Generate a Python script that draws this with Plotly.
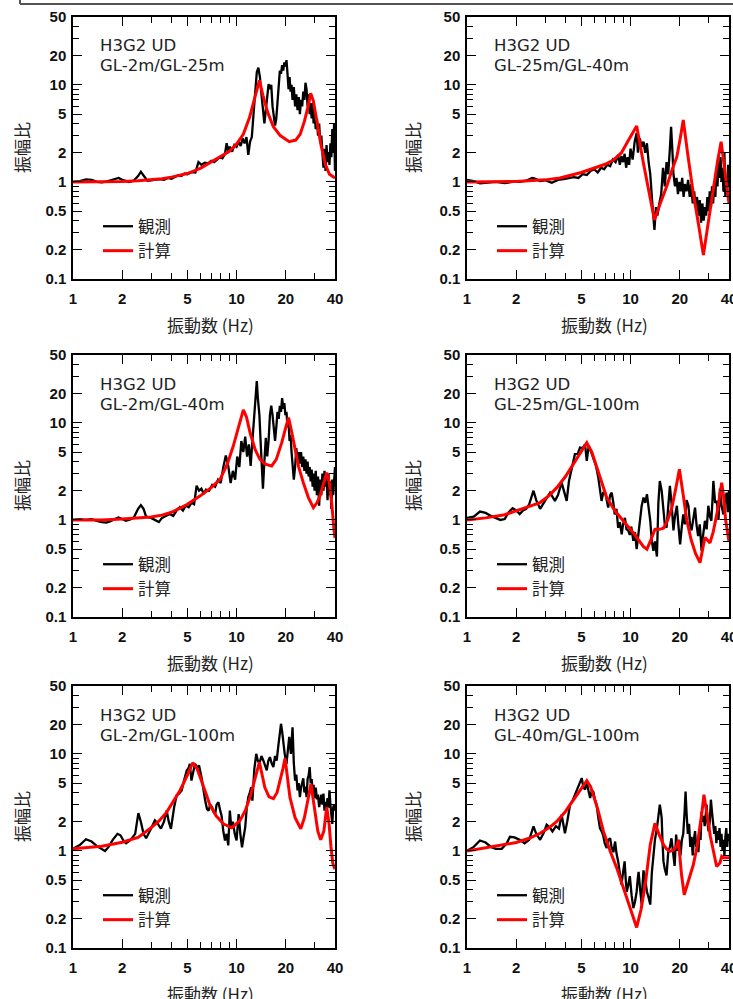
import math
import plotly.graph_objects as go

# ---------------- data ----------------
# Panel 1: H3G2 UD  GL-2m/GL-25m
f_obs_1 = [1.0, 1.1, 1.2, 1.3, 1.4, 1.5, 1.6, 1.7, 1.8, 1.9,
           2.0, 2.1, 2.2, 2.35, 2.5, 2.6, 2.7, 2.85, 3.0, 3.2,
           3.4, 3.6, 3.8, 4.0, 4.2, 4.4, 4.6, 4.8, 5.0, 5.3,
           5.6, 5.85, 6.1, 6.4, 6.7, 7.0, 7.3, 7.6, 7.9, 8.2,
           8.5, 8.7, 8.9, 9.1, 9.4, 9.7, 10.0, 10.3, 10.6, 10.9,
           11.2, 11.5, 11.8, 12.1, 12.4, 12.7, 13.0, 13.3, 13.6, 13.9,
           14.2, 14.5, 14.8, 15.1, 15.4, 15.7, 16.0, 16.3, 16.6, 16.9,
           17.2, 17.5, 17.8, 18.1, 18.4, 18.7, 19.0, 19.3, 19.6, 19.9,
           20.2, 20.5, 20.8, 21.1, 21.4, 21.7, 22.0, 22.4, 22.8, 23.2,
           23.6, 24.0, 24.4, 24.8, 25.2, 25.6, 26.0, 26.4, 26.8, 27.2,
           27.6, 28.0, 28.4, 28.8, 29.2, 29.6, 30.0, 30.5, 31.0, 31.5,
           32.0, 32.5, 33.0, 33.5, 34.0, 34.5, 35.0, 35.5, 36.0, 36.5,
           37.0, 37.5, 38.0, 38.5, 39.0, 39.5, 40.0]
a_obs_1 = [1.0, 1.02, 1.06, 1.05, 1.0, 0.99, 1.01, 1.04, 1.06, 1.1,
           1.05, 1.02, 1.0, 1.03, 1.15, 1.27, 1.15, 1.03, 1.04, 1.06,
           1.07, 1.05, 1.1, 1.08, 1.12, 1.17, 1.15, 1.22, 1.2, 1.26,
           1.25, 1.6, 1.5, 1.58, 1.55, 1.65, 1.6, 1.7, 1.8, 1.75,
           1.95, 2.5, 2.1, 2.3, 2.05, 2.4, 2.3, 2.6, 2.35, 2.8,
           2.5, 2.9, 1.9, 2.6, 2.9, 5.0, 9.5, 13.5, 15.0, 12.0,
           8.0, 5.2, 4.0, 5.5, 8.0, 10.2, 9.0, 10.0, 6.0, 4.5,
           3.8, 4.5, 7.0, 11.0, 14.0, 13.0, 16.0, 14.0, 17.0, 15.5,
           18.0, 13.0, 9.0, 12.0, 8.5, 10.0, 7.0, 9.5, 6.0, 8.0,
           5.5, 7.5, 5.0, 7.0, 6.0, 8.5, 7.0, 10.5, 9.0, 6.0,
           8.0, 5.0, 6.5, 4.5, 6.5, 4.0, 5.0, 3.5, 4.5, 3.0,
           4.0, 2.5, 3.0, 2.0, 1.4, 2.2, 1.3, 2.4, 1.6, 2.0,
           1.5, 2.5, 1.8, 3.5, 2.0, 4.0, 1.3]
f_cal_1 = [1, 1.5, 2, 2.5, 3, 3.5, 4, 4.5, 5, 6,
           7, 8, 9, 10, 11, 12, 13, 13.8, 14.5, 15.5,
           16.8, 18.5, 21, 23, 24.5, 26, 27.5, 28.4, 29.5, 31,
           33, 35, 37, 40]
a_cal_1 = [1.0, 1.0, 1.01, 1.03, 1.05, 1.08, 1.12, 1.17, 1.22, 1.38,
           1.6, 1.85, 2.05, 2.45, 3.1, 4.6, 7.5, 11.1, 7.8, 5.2,
           3.7, 3.0, 2.6, 2.7, 3.1, 4.2, 6.2, 8.2, 6.8, 4.2,
           2.3, 1.5, 1.2, 1.1]

# Panel 2: H3G2 UD  GL-25m/GL-40m
f_obs_2 = [1.0, 1.1, 1.2, 1.35, 1.5, 1.7, 1.9, 2.1, 2.3, 2.5,
           2.6, 2.8, 3.0, 3.3, 3.6, 3.9, 4.2, 4.5, 4.8, 5.1,
           5.4, 5.7, 6.0, 6.3, 6.6, 6.9, 7.2, 7.5, 7.8, 8.1,
           8.4, 8.6, 8.8, 9.0, 9.2, 9.4, 9.6, 9.8, 10.0, 10.3,
           10.6, 10.9, 11.1, 11.4, 11.7, 12.0, 12.3, 12.6, 12.9, 13.2,
           13.5, 13.8, 14.0, 14.3, 14.6, 15.0, 15.4, 15.8, 16.2, 16.6,
           17.0, 17.4, 17.7, 18.0, 18.3, 18.7, 19.1, 19.5, 19.9, 20.3,
           20.7, 21.1, 21.5, 22.0, 22.5, 23.0, 23.5, 24.0, 24.5, 25.0,
           25.5, 26.0, 26.5, 27.0, 27.5, 28.0, 28.5, 29.0, 29.5, 30.0,
           30.5, 31.0, 31.5, 32.0, 32.5, 33.0, 33.5, 34.0, 34.5, 35.0,
           35.5, 36.0, 36.5, 37.0, 37.5, 38.0, 38.5, 39.0, 39.5, 40.0]
a_obs_2 = [1.05, 1.02, 0.97, 0.98, 1.0, 0.97, 1.0, 1.0, 1.03, 1.1,
           1.08, 1.02, 1.04, 0.98, 1.05, 1.07, 1.1, 1.12, 1.1, 1.2,
           1.18, 1.3, 1.35, 1.25, 1.4, 1.35, 1.5, 1.45, 1.7, 1.6,
           1.9, 1.5, 1.85, 1.6, 1.95, 1.4, 1.8, 1.5, 2.2, 1.7,
           2.6, 3.2, 2.0, 2.8, 2.3, 2.6, 2.0, 2.5, 1.6, 1.2,
           0.7, 0.45, 0.32, 0.55, 0.45, 0.6, 0.75, 1.4, 0.9, 1.6,
           1.2, 2.2, 3.7, 2.2, 1.2, 0.9, 1.1, 0.75, 1.0, 0.8,
           1.1, 0.7, 0.95, 0.8, 1.05, 0.7, 0.95, 0.6, 0.8, 0.55,
           0.7, 0.45, 0.65, 0.38, 0.6, 0.4, 0.55, 0.45, 0.7, 0.5,
           0.8, 0.55, 0.9, 0.6, 1.0, 0.7, 1.3, 0.9, 1.6, 1.1,
           1.8, 1.0, 1.4, 0.8, 2.0, 0.7, 1.1, 0.8, 1.5, 0.9]
f_cal_2 = [1, 1.5, 2, 3, 3.7, 5, 5.93, 7, 7.85, 8.8,
           9.48, 10.2, 10.9, 12.0, 13.0, 14.0, 15.2, 16.6, 18.0, 19.2,
           20.2, 21.0, 22.5, 24.2, 26.0, 27.9, 30.0, 32.1, 34.0, 35.8,
           37.2, 38.7, 40]
a_cal_2 = [1.0, 1.0, 1.01, 1.05, 1.1, 1.25, 1.38, 1.52, 1.68, 2.0,
           2.5, 3.1, 3.77, 1.55, 0.78, 0.405, 0.6, 0.89, 1.35, 1.82,
           2.9, 4.34, 1.8, 0.76, 0.37, 0.177, 0.4, 0.89, 1.6, 2.6,
           1.6, 0.97, 0.6]

# Panel 3: H3G2 UD  GL-2m/GL-40m
f_obs_3 = [1.0, 1.1, 1.2, 1.3, 1.4, 1.5, 1.6, 1.7, 1.8, 1.9,
           2.0, 2.1, 2.2, 2.35, 2.5, 2.6, 2.7, 2.8, 3.0, 3.2,
           3.35, 3.5, 3.7, 3.9, 4.1, 4.3, 4.5, 4.7, 4.9, 5.1,
           5.3, 5.5, 5.7, 5.9, 6.1, 6.3, 6.5, 6.8, 7.1, 7.4,
           7.7, 8.0, 8.3, 8.6, 8.9, 9.2, 9.5, 9.8, 10.1, 10.4,
           10.7, 11.0, 11.3, 11.6, 11.9, 12.2, 12.5, 12.8, 13.1, 13.3,
           13.5, 13.8, 14.0, 14.3, 14.5, 14.8, 15.1, 15.4, 15.7, 16.0,
           16.3, 16.6, 16.9, 17.2, 17.5, 17.8, 18.1, 18.4, 18.7, 19.0,
           19.3, 19.6, 19.9, 20.2, 20.5, 20.8, 21.1, 21.4, 21.7, 22.0,
           22.4, 22.8, 23.2, 23.6, 24.0, 24.4, 24.8, 25.2, 25.6, 26.0,
           26.4, 26.8, 27.2, 27.6, 28.0, 28.4, 28.8, 29.2, 29.6, 30.0,
           30.5, 31.0, 31.5, 32.0, 32.5, 33.0, 33.5, 34.0, 34.5, 35.0,
           35.5, 36.0, 36.5, 37.0, 37.5, 38.0, 38.5, 39.0, 39.5, 40.0]
a_obs_3 = [1.0, 1.02, 1.0, 1.02, 0.98, 0.95, 0.94, 0.97, 1.02, 1.06,
           1.02, 0.98, 1.0, 1.05, 1.3, 1.42, 1.3, 1.08, 1.05, 1.0,
           0.95, 1.05, 1.1, 1.15, 1.1, 1.25, 1.35, 1.25, 1.4, 1.35,
           1.5, 1.45, 2.25, 2.0, 2.1, 1.85, 2.05, 2.0, 2.3, 2.2,
           2.6, 2.4, 3.5, 4.6, 3.6, 2.4, 3.2, 2.6, 4.5, 3.5,
           6.5, 5.0, 7.2, 4.5, 6.0, 3.6, 6.5, 12.0, 20.0, 27.0,
           18.0, 12.0, 7.0, 3.5, 2.1, 4.0, 7.0, 4.5, 6.5, 12.0,
           15.0, 12.0, 9.0, 6.5, 9.0, 13.0, 11.0, 15.0, 13.0, 18.0,
           14.0, 16.0, 12.0, 13.0, 9.0, 10.0, 6.5, 7.5, 5.0, 4.0,
           2.6, 3.5, 5.5, 4.0, 5.0, 3.8, 5.0, 3.5, 4.5, 3.2,
           4.2, 3.0, 4.0, 2.8, 3.5, 2.5, 3.3, 2.2, 3.0, 2.0,
           3.2, 1.8, 2.8, 1.4, 2.6, 1.8, 3.0, 2.0, 3.2, 2.2,
           2.8, 1.6, 3.0, 1.8, 2.5, 1.3, 2.6, 1.8, 3.2, 3.5]
f_cal_3 = [1, 1.5, 2, 2.5, 3, 3.5, 4, 4.5, 5, 6,
           7, 7.93, 8.8, 9.56, 10.3, 11.0, 11.5, 12.1, 13.0, 13.9,
           15, 16.4, 17.5, 18.9, 20.0, 20.8, 21.6, 22.7, 24, 25.6,
           27.5, 29.5, 31, 32.4, 34, 35.6, 36.8, 38.2, 39.4, 40]
a_cal_3 = [1.0, 1.0, 1.02, 1.04, 1.07, 1.12, 1.2, 1.32, 1.45, 1.77,
           2.15, 2.62, 3.8, 5.8, 9.0, 13.6, 11.5, 7.9, 5.3, 4.2,
           3.75, 3.6, 4.2, 6.25, 9.0, 11.3, 8.5, 5.35, 3.5, 2.42,
           1.7, 1.34, 1.5, 1.77, 2.4, 3.07, 2.5, 1.5, 0.8, 0.65]

# Panel 4: H3G2 UD  GL-25m/GL-100m
f_obs_4 = [1.0, 1.1, 1.2, 1.3, 1.4, 1.5, 1.6, 1.7, 1.8, 1.9,
           2.0, 2.1, 2.2, 2.3, 2.4, 2.55, 2.65, 2.8, 3.0, 3.22,
           3.45, 3.6, 3.79, 3.95, 4.07, 4.2, 4.36, 4.57, 4.75, 4.91,
           5.1, 5.27, 5.4, 5.55, 5.66, 5.92, 6.15, 6.35, 6.5, 6.65,
           6.8, 7.0, 7.15, 7.3, 7.5, 7.67, 7.85, 8.0, 8.2, 8.4,
           8.6, 8.83, 9.0, 9.24, 9.45, 9.67, 9.9, 10.1, 10.4, 10.65,
           10.9, 11.15, 11.4, 11.7, 12.0, 12.3, 12.6, 12.9, 13.2, 13.5,
           13.8, 14.1, 14.5, 14.8, 15.1, 15.5, 15.9, 16.2, 16.6, 17.0,
           17.4, 17.8, 18.3, 18.7, 19.2, 19.6, 20.1, 20.5, 21.0, 21.5,
           22.0, 22.6, 23.1, 23.6, 24.2, 24.8, 25.3, 25.9, 26.5, 27.2,
           27.8, 28.5, 29.2, 29.9, 30.5, 31.2, 31.7, 32.1, 32.9, 33.7,
           34.5, 35.2, 36.0, 37.0, 37.8, 38.7, 39.3, 40.0]
a_obs_4 = [1.05, 1.08, 1.22, 1.18, 1.1, 1.05, 1.0, 1.02, 1.2, 1.32,
           1.25, 1.15, 1.25, 1.3, 1.45, 2.0, 1.6, 1.3, 1.6, 1.91,
           1.57, 1.8, 2.42, 1.8, 1.57, 2.5, 3.46, 4.76, 4.8, 5.56,
           5.5, 6.0, 4.05, 5.8, 5.35, 4.38, 3.6, 2.73, 2.0, 1.57,
           1.9, 1.9, 1.6, 1.34, 1.8, 1.91, 1.5, 1.14, 1.3, 0.83,
           0.95, 0.71, 0.9, 1.05, 0.8, 0.78, 0.7, 0.85, 0.61, 0.75,
           0.5, 0.7, 0.98, 1.4, 1.7, 1.5, 1.84, 1.3, 0.98, 0.6,
           0.48, 0.6, 0.42, 1.5, 2.52, 2.0, 1.34, 0.9, 0.83, 1.4,
           2.24, 1.5, 0.78, 1.1, 1.4, 0.9, 0.56, 0.8, 1.14, 0.9,
           1.6, 1.4, 0.9, 0.78, 1.1, 1.34, 0.9, 0.68, 0.9, 0.48,
           0.7, 0.98, 0.8, 1.4, 1.1, 0.98, 1.6, 2.52, 1.5, 1.57,
           1.0, 2.1, 1.4, 1.14, 1.6, 1.91, 1.2, 2.0]
f_cal_4 = [1, 1.3, 1.7, 2.0, 2.4, 2.8, 3.2, 3.54, 4.0, 4.47,
           5.0, 5.4, 5.8, 6.21, 6.7, 7.15, 8.0, 9.03, 10.5, 12.0,
           12.6, 13.3, 14.1, 15.0, 15.9, 16.9, 17.9, 19.0, 19.9, 21.0,
           22.1, 23.5, 25.0, 26.6, 27.6, 28.5, 29.5, 30.6, 32.0, 33.7,
           35.0, 36.1, 37.0, 38.2, 40]
a_cal_4 = [1.0, 1.05, 1.13, 1.24, 1.37, 1.51, 1.8, 2.15, 2.8, 3.75,
           5.0, 6.25, 5.0, 3.46, 2.4, 1.70, 1.25, 0.98, 0.72, 0.53,
           0.50, 0.62, 0.80, 0.8, 0.82, 1.0, 1.34, 2.2, 3.33, 1.8,
           0.98, 0.62, 0.45, 0.363, 0.5, 0.66, 0.62, 0.58, 0.75, 1.14,
           1.7, 2.42, 1.8, 0.98, 0.6]

# Panel 5: H3G2 UD  GL-2m/GL-100m
f_obs_5 = [1.0, 1.1, 1.2, 1.3, 1.4, 1.5, 1.57, 1.65, 1.75, 1.87,
           1.95, 2.05, 2.11, 2.25, 2.4, 2.51, 2.6, 2.7, 2.8, 2.95,
           3.05, 3.17, 3.3, 3.45, 3.6, 3.74, 3.85, 3.97, 4.15, 4.3,
           4.45, 4.62, 4.8, 4.96, 5.1, 5.18, 5.3, 5.45, 5.57, 5.75,
           5.9, 6.12, 6.3, 6.43, 6.6, 6.75, 6.9, 7.1, 7.25, 7.4,
           7.55, 7.75, 7.95, 8.1, 8.3, 8.5, 8.7, 8.9, 9.1, 9.3,
           9.5, 9.75, 10.0, 10.15, 10.3, 10.55, 10.8, 11.05, 11.3, 11.55,
           11.8, 12.05, 12.3, 12.5, 12.85, 13.2, 13.5, 13.8, 14.2, 14.6,
           14.95, 15.3, 15.65, 16.0, 16.4, 16.8, 17.2, 17.6, 18.0, 18.3,
           18.7, 19.0, 19.3, 19.7, 20.2, 20.6, 21.0, 21.5, 22.0, 22.4,
           22.8, 23.2, 23.6, 24.0, 24.4, 24.8, 25.2, 25.6, 26.0, 26.4,
           26.8, 27.2, 27.6, 28.0, 28.4, 28.8, 29.2, 29.6, 30.0, 30.5,
           31.0, 31.5, 32.0, 32.5, 33.0, 33.5, 34.0, 34.5, 35.0, 35.5,
           36.0, 36.5, 37.0, 37.5, 38.0, 38.5, 39.0, 39.5, 40.0]
a_obs_5 = [1.05, 1.15, 1.32, 1.25, 1.12, 1.05, 1.0, 1.1, 1.3, 1.5,
           1.45, 1.25, 1.2, 1.3, 1.5, 2.45, 2.0, 1.5, 1.35, 1.6,
           1.8, 2.06, 1.9, 1.7, 2.0, 2.61, 2.0, 1.69, 2.8, 3.73,
           3.9, 4.2, 5.5, 6.75, 7.2, 7.9, 5.3, 7.0, 7.9, 7.2,
           7.6, 5.6, 4.0, 3.3, 2.7, 2.6, 3.0, 2.8, 2.5, 2.4,
           3.0, 3.18, 2.6, 2.3, 1.6, 1.28, 1.5, 1.14, 2.6, 1.7,
           2.0, 1.5, 1.28, 1.8, 2.4, 1.5, 1.09, 1.4, 1.75, 2.8,
           3.58, 4.0, 4.53, 3.3, 7.0, 10.0, 8.5, 7.9, 9.5, 8.5,
           7.5, 6.75, 8.5, 9.25, 8.0, 7.3, 9.5, 8.5, 12.0, 16.0,
           20.4, 17.0, 12.7, 10.0, 7.9, 12.0, 15.0, 10.0, 18.8, 8.0,
           5.3, 6.1, 4.2, 5.0, 3.58, 4.5, 5.0, 5.6, 4.0, 4.6,
           3.58, 5.5, 6.0, 7.3, 5.0, 5.5, 4.2, 4.8, 3.5, 4.5,
           3.4, 3.8, 2.83, 3.5, 3.8, 3.0, 3.9, 2.6, 3.2, 2.83,
           3.5, 2.8, 4.2, 3.0, 2.5, 1.9, 2.8, 3.0, 2.6]
f_cal_5 = [1, 1.5, 2, 2.5, 2.96, 3.37, 3.74, 4.1, 4.51, 5.0,
           5.4, 5.75, 6.12, 6.5, 6.89, 7.5, 8.3, 9.35, 10.5, 11.3,
           12.1, 12.9, 13.8, 14.3, 14.9, 15.8, 16.8, 17.7, 18.5, 19.2,
           19.8, 20.5, 21.2, 22.8, 24.7, 26.0, 26.9, 27.8, 28.5, 29.3,
           30.2, 31.4, 32.7, 34.2, 35.6, 36.8, 37.8, 38.8, 40]
a_cal_5 = [1.05, 1.12, 1.23, 1.38, 1.7, 2.05, 2.51, 3.2, 4.2, 6.0,
           8.1, 7.0, 5.3, 3.9, 2.94, 2.3, 1.9, 1.73, 2.06, 2.6,
           3.58, 5.4, 8.2, 6.2, 4.5, 3.6, 3.45, 4.0, 5.3, 7.0,
           9.0, 6.0, 3.58, 2.2, 1.69, 2.2, 2.83, 3.9, 4.93, 3.6,
           2.42, 1.6, 1.30, 1.6, 2.83, 1.9, 1.1, 0.74, 0.65]

# Panel 6: H3G2 UD  GL-40m/GL-100m
f_obs_6 = [1.0, 1.1, 1.2, 1.3, 1.4, 1.5, 1.63, 1.75, 1.83, 1.95,
           2.1, 2.25, 2.4, 2.55, 2.65, 2.8, 2.95, 3.07, 3.2, 3.33,
           3.5, 3.65, 3.79, 3.9, 3.97, 4.1, 4.27, 4.42, 4.57, 4.8,
           5.03, 5.15, 5.27, 5.4, 5.55, 5.66, 5.8, 5.93, 6.05, 6.2,
           6.35, 6.5, 6.65, 6.8, 6.95, 7.15, 7.3, 7.5, 7.65, 7.85,
           8.05, 8.2, 8.4, 8.6, 8.8, 9.0, 9.2, 9.35, 9.48, 9.7,
           9.9, 10.15, 10.4, 10.65, 10.9, 11.05, 11.2, 11.45, 11.7, 11.85,
           12.0, 12.3, 12.6, 12.9, 13.2, 13.5, 13.8, 14.1, 14.5, 14.8,
           15.1, 15.3, 15.5, 15.7, 15.9, 16.2, 16.6, 17.0, 17.4, 17.8,
           18.2, 18.6, 19.0, 19.4, 19.8, 20.2, 20.6, 21.0, 21.4, 21.7,
           22.0, 22.4, 22.8, 23.2, 23.6, 24.0, 24.4, 24.8, 25.2, 25.6,
           26.0, 26.4, 26.8, 27.2, 27.6, 28.0, 28.4, 28.8, 29.2, 29.6,
           30.0, 30.5, 31.0, 31.5, 32.0, 32.5, 33.0, 33.5, 34.0, 34.5,
           35.0, 35.5, 36.0, 36.5, 37.0, 37.5, 38.0, 38.5, 39.0, 39.5, 40.0]
a_obs_6 = [1.0, 1.1, 1.28, 1.22, 1.1, 1.05, 1.05, 1.2, 1.4, 1.38,
           1.3, 1.2, 1.3, 1.79, 1.5, 1.3, 1.55, 1.86, 1.75, 1.59,
           1.8, 1.7, 2.36, 1.8, 1.52, 2.0, 3.0, 3.3, 3.79, 4.5,
           5.63, 4.5, 4.3, 5.0, 4.0, 3.5, 4.2, 4.05, 3.4, 3.0,
           2.2, 1.72, 1.6, 1.45, 1.2, 1.07, 1.3, 1.35, 1.1, 0.97,
           1.25, 0.95, 0.78, 0.6, 0.45, 0.6, 0.78, 0.5, 0.38, 0.45,
           0.55, 0.35, 0.257, 0.3, 0.38, 0.5, 0.61, 0.4, 0.28, 0.45,
           0.63, 0.5, 0.38, 0.33, 0.28, 0.6, 0.97, 1.3, 1.72, 2.4,
           3.0, 2.6, 2.2, 1.2, 0.78, 0.65, 0.56, 0.97, 1.1, 1.35,
           1.0, 0.7, 1.47, 1.0, 1.3, 0.9, 1.3, 1.5, 2.5, 4.1,
           2.5, 1.5, 1.9, 1.1, 1.4, 0.9, 1.3, 1.6, 1.1, 1.3,
           0.97, 1.6, 1.3, 2.55, 2.0, 2.3, 1.8, 2.2, 3.0, 1.9,
           1.59, 2.0, 3.37, 2.5, 2.0, 1.5, 1.8, 1.2, 1.6, 1.3,
           1.72, 1.1, 1.5, 1.0, 1.3, 0.9, 1.4, 1.72, 1.1, 1.5, 1.25]
f_cal_6 = [1, 1.3, 1.6, 2.0, 2.4, 2.8, 3.2, 3.54, 4.0, 4.47,
           5.0, 5.4, 5.7, 5.93, 6.3, 6.83, 7.5, 8.24, 9.48, 10.2,
           10.9, 11.6, 12.3, 13.2, 14.1, 14.9, 15.9, 16.6, 17.4, 18.3,
           19.1, 19.6, 20.5, 21.3, 22.6, 24.2, 25.5, 26.6, 27.4, 28.1,
           29.0, 29.6, 30.8, 32.1, 33.6, 35.2, 36.1, 37.0, 40]
a_cal_6 = [1.0, 1.08, 1.15, 1.22, 1.35, 1.52, 1.75, 2.01, 2.55, 3.37,
           4.5, 5.3, 4.6, 3.79, 2.7, 1.59, 1.0, 0.665, 0.327, 0.23,
           0.163, 0.25, 0.45, 1.16, 1.93, 1.5, 1.16, 1.05, 0.99, 1.02,
           1.11, 1.3, 0.57, 0.354, 0.5, 0.72, 1.1, 1.72, 2.6, 3.79,
           2.8, 2.18, 1.4, 0.99, 0.69, 0.75, 0.88, 0.85, 0.85]

station = "H3G2 UD"
ratio_labels = ["GL-2m/GL-25m", "GL-25m/GL-40m", "GL-2m/GL-40m",
                "GL-25m/GL-100m", "GL-2m/GL-100m", "GL-40m/GL-100m"]
series_names = ["観測", "計算"]
x_title = "振動数 (Hz)"
y_title = "振幅比"

x_tickvals = [1, 2, 5, 10, 20, 40]
x_ticktext = ["1", "2", "5", "10", "20", "40"]
x_minorvals = [3, 4, 6, 7, 8, 9, 30]
y_tickvals = [0.1, 0.2, 0.5, 1, 2, 5, 10, 20, 50]
y_ticktext = ["0.1", "0.2", "0.5", "1", "2", "5", "10", "20", "50"]
y_minorvals = [0.3, 0.4, 0.6, 0.7, 0.8, 0.9, 3, 4, 6, 7, 8, 9, 30, 40]

obs_f = [f_obs_1, f_obs_2, f_obs_3, f_obs_4, f_obs_5, f_obs_6]
obs_a = [a_obs_1, a_obs_2, a_obs_3, a_obs_4, a_obs_5, a_obs_6]
cal_f = [f_cal_1, f_cal_2, f_cal_3, f_cal_4, f_cal_5, f_cal_6]
cal_a = [a_cal_1, a_cal_2, a_cal_3, a_cal_4, a_cal_5, a_cal_6]

# ---------------- layout geometry (pixels) ----------------
W, H = 733, 999
COLS = [(73, 335), (467, 729)]
ROWS = [(17, 279), (355, 617), (686, 948)]
FONT_LAT = "Liberation Sans, Arial, sans-serif"
FONT_LBL = "DejaVu Sans, Liberation Sans, sans-serif"
FONT_JP = "Noto Sans CJK JP, sans-serif"
TXT = "#222222"


def xp(px):
    return px / W


def yp(py):
    return 1 - py / H


fig = go.Figure()
annotations = []
layout_axes = {}

for i in range(6):
    r, c = divmod(i, 2)
    x0, x1 = COLS[c]
    y0, y1 = ROWS[r]
    sfx = "" if i == 0 else str(i + 1)
    lg = "legend" + sfx
    fig.add_trace(go.Scatter(
        x=obs_f[i], y=obs_a[i], mode="lines", name=series_names[0],
        line=dict(color="black", width=2.3), xaxis="x" + sfx, yaxis="y" + sfx,
        legend=lg))
    fig.add_trace(go.Scatter(
        x=cal_f[i], y=cal_a[i], mode="lines", name=series_names[1],
        line=dict(color="#ff0000", width=3), xaxis="x" + sfx, yaxis="y" + sfx,
        legend=lg))

    common = dict(
        type="log", showgrid=False, zeroline=False, automargin=False,
        showline=True, linecolor="black", linewidth=1.5, mirror="allticks",
        ticks="inside", ticklen=9, tickwidth=1.3, tickcolor="black",
        ticklabeloverflow="allow",
        tickfont=dict(family=FONT_LAT, size=15, color="#111111", weight="bold"),
    )
    layout_axes["xaxis" + sfx] = dict(
        common, range=[0, math.log10(40)], domain=[xp(x0), xp(x1)],
        anchor="y" + sfx, tickmode="array", tickvals=x_tickvals,
        ticktext=x_ticktext, ticklabelstandoff=5,
        minor=dict(tickmode="array", tickvals=x_minorvals, ticks="inside",
                   ticklen=6, tickwidth=1.3, tickcolor="black", showgrid=False))
    layout_axes["yaxis" + sfx] = dict(
        common, range=[-1, math.log10(50)], domain=[yp(y1), yp(y0)],
        anchor="x" + sfx, tickmode="array", tickvals=y_tickvals,
        ticktext=y_ticktext, ticklabelstandoff=2,
        minor=dict(tickmode="array", tickvals=y_minorvals, ticks="inside",
                   ticklen=6, tickwidth=1.3, tickcolor="black", showgrid=False))

    layout_axes[lg] = dict(
        x=xp(x0 + 25), y=yp(y0 + 192), xanchor="left", yanchor="top",
        bgcolor="rgba(0,0,0,0)", borderwidth=0, tracegroupgap=0,
        font=dict(family=FONT_JP, size=16.5, color=TXT))

    # panel labels
    annotations.append(dict(
        text=station, xref="paper", yref="paper", x=xp(x0 + 25), y=yp(y0 + 29),
        xanchor="left", yanchor="middle", showarrow=False,
        font=dict(family=FONT_LBL, size=16.5, color=TXT)))
    annotations.append(dict(
        text=ratio_labels[i], xref="paper", yref="paper", x=xp(x0 + 25), y=yp(y0 + 49),
        xanchor="left", yanchor="middle", showarrow=False,
        font=dict(family=FONT_LBL, size=16.5, color=TXT)))
    # axis titles
    annotations.append(dict(
        text=x_title, xref="paper", yref="paper", x=xp((x0 + x1) / 2 + 6), y=yp(y1 + 45),
        xanchor="center", yanchor="middle", showarrow=False,
        font=dict(family=FONT_JP, size=17, color=TXT)))
    annotations.append(dict(
        text=y_title, xref="paper", yref="paper",
        x=xp(x0 - (52 if c == 0 else 55)), y=yp((y0 + y1) / 2),
        xanchor="center", yanchor="middle", textangle=-90, showarrow=False,
        font=dict(family=FONT_JP, size=17, color=TXT)))

fig.update_layout(**layout_axes)
fig.update_layout(
    width=W, height=H,
    margin=dict(l=0, r=0, t=0, b=0, pad=0, autoexpand=False),
    paper_bgcolor="white", plot_bgcolor="white",
    showlegend=True, hovermode=False, annotations=annotations,
    shapes=[
        dict(type="line", xref="paper", yref="paper", x0=xp(20), x1=1.0,
             y0=yp(4), y1=yp(4), line=dict(color="#555555", width=2)),
        dict(type="line", xref="paper", yref="paper", x0=xp(20), x1=xp(20),
             y0=yp(4), y1=1.0, line=dict(color="#555555", width=2)),
    ],
)

# the page's default 8px body margin would shift the figure; remove it
fig.write_html("out.html", config={"displayModeBar": False},
               post_script="document.body.style.margin='0px';")
